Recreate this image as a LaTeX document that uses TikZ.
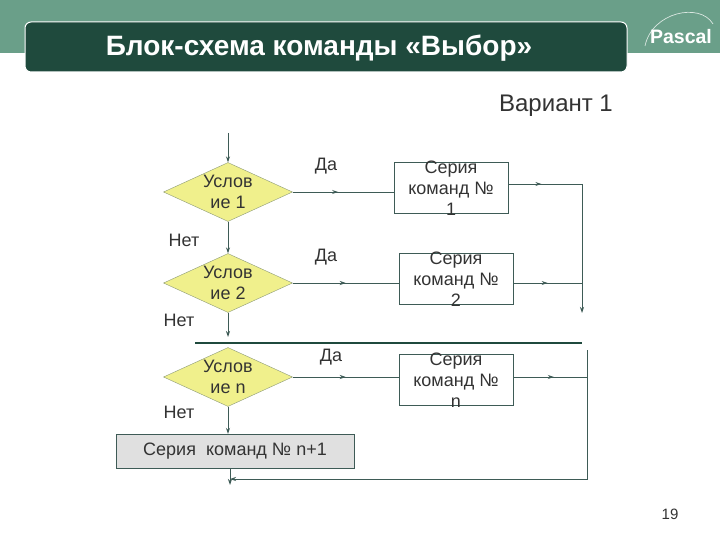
\documentclass[tikz,border=0pt]{standalone}
\usepackage{fontspec}
\setmainfont{Liberation Sans}
\usetikzlibrary{shapes.geometric, arrows.meta, decorations.markings}

\definecolor{band}{HTML}{6A9F89}
\definecolor{titlebg}{HTML}{1F4A3D}
\definecolor{condfill}{HTML}{F0F08C}
\definecolor{condline}{HTML}{8C9A78}
\definecolor{lines}{HTML}{3E5B56}
\definecolor{boxgray}{HTML}{E0E0E0}
\definecolor{txt}{HTML}{333333}

\begin{document}
\begin{tikzpicture}[x=1pt, y=-1pt,
  every node/.style={text=txt},
  cond/.style={diamond, draw=condline, fill=condfill, minimum width=129pt, minimum height=59pt, inner sep=0pt},
  condtext/.style={align=center, font=\fontsize{18}{20.5}\selectfont},
  cmd/.style={rectangle, draw=lines, fill=white, minimum width=114pt, minimum height=51pt, inner sep=0pt},
  cmdtext/.style={align=center, font=\fontsize{18}{21}\selectfont},
  lbl/.style={font=\fontsize{18}{21}\selectfont},
  conn/.style={draw=lines, line width=0.8pt},
  tip/.style={-{Stealth[length=6pt,width=4pt]}},
  midarr/.style={postaction={decorate}, decoration={markings, mark=at position #1 with {\arrow{Stealth[length=6pt,width=4pt]}}}}]
\useasboundingbox (0,0) rectangle (720,540);
\fill[white] (0,0) rectangle (720,540);
\fill[band] (0,0) rectangle (720,53);
\draw[white!75!band, line width=0.7pt] (645,46) .. controls (652,12) and (700,2) .. (713,24);
\node[font=\bfseries\fontsize{19.5}{23}\selectfont, text=white] (pascal) at (681,37) {Pascal};
\node[rectangle, rounded corners=6pt, draw=white, line width=1pt, fill=titlebg, minimum width=602pt, minimum height=50pt,
  label={[text=white, font=\bfseries\fontsize{28}{32}\selectfont, xshift=-7pt, yshift=-1pt]center:Блок-схема команды «Выбор»}] (title) at (326,47) {};
\node[font=\fontsize{24}{28}\selectfont] (var) at (556,106) {Вариант 1};

\node[cond, label={[condtext]center:Услов\\ие 1}] (c1) at (228,192) {};
\node[cond, label={[condtext]center:Услов\\ие 2}] (c2) at (228,283) {};
\node[cond, label={[condtext]center:Услов\\ие n}] (cn) at (228,377) {};
\node[cmd, label={[cmdtext]center:Серия\\команд №\\1}] (s1) at (451,188) {};
\node[cmd, label={[cmdtext]center:Серия\\команд №\\2}] (s2) at (456,279) {};
\node[cmd, label={[cmdtext]center:Серия\\команд №\\n}] (sn) at (456,380) {};
\node[cmd, fill=boxgray, minimum width=238pt, minimum height=34pt, font=\fontsize{18}{21}\selectfont] (sn1) at (235,451) {Серия\ \ команд № n+1};

\node[lbl] (y1) at (326,166) {Да};
\node[lbl] (y2) at (326,257) {Да};
\node[lbl] (yn) at (331,357) {Да};
\node[lbl] (n1) at (184,240) {Нет};
\node[lbl] (n2) at (179,320) {Нет};
\node[lbl] (nn) at (179,412) {Нет};
\node[font=\fontsize{15}{18}\selectfont] (page) at (670,514) {19};

\coordinate (start) at (228,133);
\coordinate (r1) at (582,184);
\coordinate (r2) at (582,313);
\coordinate (d2) at (228,337);
\coordinate (bl) at (195,343);
\coordinate (br) at (582,343);
\coordinate (q1) at (587,350);
\coordinate (q2) at (587,479);
\coordinate (q3) at (230,479);
\coordinate (q4) at (230,485);

\draw[conn, tip] (start) -- (c1.north);
\draw[conn, midarr=0.45] (c1.east) -- (c1.east -| s1.west);
\draw[conn, midarr=0.45] (s1.east |- r1) -- (r1);
\draw[conn, tip] (r1) -- (r2);
\draw[conn, tip] (c1.south) -- (c2.north);
\draw[conn, midarr=0.5] (c2.east) -- (c2.east -| s2.west);
\draw[conn, midarr=0.5] (c2.east -| s2.east) -- (c2.east -| r1);
\draw[conn, tip] (c2.south) -- (d2);
\draw[titlebg, line width=2.5pt] (bl) -- (br);
\draw[conn, midarr=0.5] (cn.east) -- (cn.east -| sn.west);
\draw[conn, midarr=0.55] (cn.east -| sn.east) -- (cn.east -| q1);
\draw[conn, tip] (cn.south) -- (cn.south |- sn1.north);
\draw[conn, tip] (q1) -- (q2) -- (q3);
\draw[conn, tip] (sn1.south -| q3) -- (q4);
\end{tikzpicture}
\end{document}
